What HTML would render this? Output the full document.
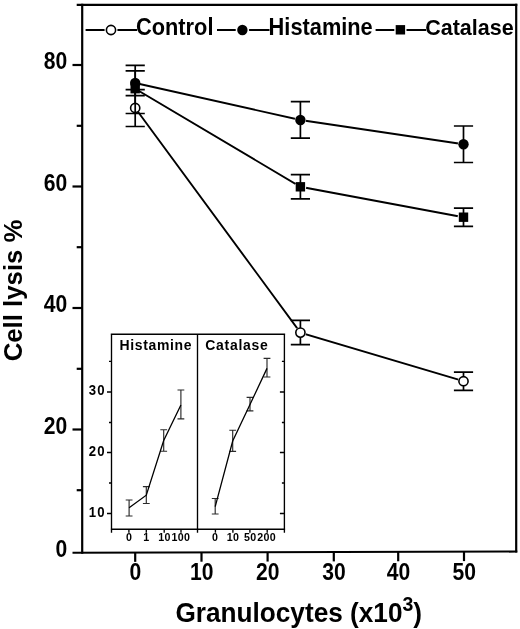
<!DOCTYPE html>
<html><head><meta charset="utf-8"><title>Cell lysis chart</title>
<style>html,body{margin:0;padding:0;background:#fff}svg{display:block}text{font-family:"Liberation Sans",Arial,sans-serif;font-weight:bold;fill:#000}</style>
</head><body>
<svg width="520" height="629" viewBox="0 0 520 629">
<rect width="520" height="629" fill="#fff"/>
<g stroke="#000" stroke-width="2.2" fill="none" stroke-linecap="butt">
<path d="M82.2,3.8000000000000003V553.8"/>
<path d="M516.2,3.8000000000000003V552.6"/>
<path d="M76.7,4.9H517.3000000000001"/>
<path d="M72.5,552.75L517.3000000000001,551.5"/>
<path d="M72.5,429.5H82.2"/>
<path d="M72.5,308.0H82.2"/>
<path d="M72.5,186.5H82.2"/>
<path d="M72.5,65.0H82.2"/>
<path d="M76.7,490.2H82.2"/>
<path d="M76.7,368.8H82.2"/>
<path d="M76.7,247.2H82.2"/>
<path d="M76.7,125.8H82.2"/>
<path d="M135.2,552.53V561.86"/>
<path d="M201.5,552.35V561.71"/>
<path d="M267.6,552.17V561.56"/>
<path d="M333.8,551.99V561.41"/>
<path d="M398.2,551.82V561.27"/>
<path d="M464,551.64V561.12"/>
</g>
<text transform="translate(67.30,557.00) scale(0.96,1.1)" font-size="22" text-anchor="end">0</text>
<text transform="translate(67.30,433.80) scale(0.96,1.1)" font-size="22" text-anchor="end">20</text>
<text transform="translate(67.30,312.30) scale(0.96,1.1)" font-size="22" text-anchor="end">40</text>
<text transform="translate(67.30,190.80) scale(0.96,1.1)" font-size="22" text-anchor="end">60</text>
<text transform="translate(67.30,69.30) scale(0.96,1.1)" font-size="22" text-anchor="end">80</text>
<text transform="translate(135.40,579.50) scale(0.96,1.1)" font-size="22" text-anchor="middle">0</text>
<text transform="translate(201.70,579.50) scale(0.96,1.1)" font-size="22" text-anchor="middle">10</text>
<text transform="translate(267.80,579.50) scale(0.96,1.1)" font-size="22" text-anchor="middle">20</text>
<text transform="translate(334.00,579.50) scale(0.96,1.1)" font-size="22" text-anchor="middle">30</text>
<text transform="translate(398.40,579.50) scale(0.96,1.1)" font-size="22" text-anchor="middle">40</text>
<text transform="translate(464.20,579.50) scale(0.96,1.1)" font-size="22" text-anchor="middle">50</text>
<text transform="translate(21.8,290.4) rotate(-90) scale(1,1.03)" font-size="25.8" text-anchor="middle">Cell lysis %</text>
<text transform="translate(175.4,621.6) scale(1,1.06)" font-size="26.2">Granulocytes (x10<tspan font-size="19.5" dy="-10.3">3</tspan><tspan dy="10.3">)</tspan></text>
<polyline fill="none" stroke="#000" stroke-width="1.9" points="135.2,108.0 300.4,332.6 463.5,381.2"/>
<circle cx="300.4" cy="332.6" r="5.7" fill="#fff"/>
<circle cx="463.5" cy="381.2" r="5.7" fill="#fff"/>
<path fill="none" stroke="#000" stroke-width="1.7" d="M135.2,89.7V126.5M125.6,89.7H144.8M125.6,126.5H144.8"/>
<path fill="none" stroke="#000" stroke-width="1.7" d="M300.4,320.4V344.7M290.8,320.4H310.0M290.8,344.7H310.0"/>
<path fill="none" stroke="#000" stroke-width="1.7" d="M463.5,372.1V390.3M453.9,372.1H473.1M453.9,390.3H473.1"/>
<circle cx="135.2" cy="108.0" r="4.6" fill="#fff" stroke="#000" stroke-width="1.6"/>
<circle cx="300.4" cy="332.6" r="4.6" fill="#fff" stroke="#000" stroke-width="1.6"/>
<circle cx="463.5" cy="381.2" r="4.6" fill="#fff" stroke="#000" stroke-width="1.6"/>
<polyline fill="none" stroke="#000" stroke-width="1.9" points="135.2,83.0 300.4,120.0 463.5,144.3"/>
<circle cx="300.4" cy="120.0" r="5.7" fill="#fff"/>
<circle cx="463.5" cy="144.3" r="5.7" fill="#fff"/>
<path fill="none" stroke="#000" stroke-width="1.7" d="M135.2,65.4V95.7M125.6,65.4H144.8M125.6,95.7H144.8"/>
<path fill="none" stroke="#000" stroke-width="1.7" d="M300.4,101.7V138.2M290.8,101.7H310.0M290.8,138.2H310.0"/>
<path fill="none" stroke="#000" stroke-width="1.7" d="M463.5,126.0V162.5M453.9,126.0H473.1M453.9,162.5H473.1"/>
<circle cx="135.2" cy="83.0" r="5.2" fill="#000"/>
<circle cx="300.4" cy="120.0" r="5.2" fill="#000"/>
<circle cx="463.5" cy="144.3" r="5.2" fill="#000"/>
<polyline fill="none" stroke="#000" stroke-width="1.9" points="135.2,88.7 300.4,186.8 463.5,217.2"/>
<circle cx="300.4" cy="186.8" r="5.9" fill="#fff"/>
<circle cx="463.5" cy="217.2" r="5.9" fill="#fff"/>
<path fill="none" stroke="#000" stroke-width="1.7" d="M135.2,70.8V113.5M125.6,70.8H144.8M125.6,113.5H144.8"/>
<path fill="none" stroke="#000" stroke-width="1.7" d="M300.4,174.6V198.9M290.8,174.6H310.0M290.8,198.9H310.0"/>
<path fill="none" stroke="#000" stroke-width="1.7" d="M463.5,208.1V226.3M453.9,208.1H473.1M453.9,226.3H473.1"/>
<rect x="130.5" y="84.0" width="9.4" height="9.4" fill="#000"/>
<rect x="295.7" y="182.1" width="9.4" height="9.4" fill="#000"/>
<rect x="458.8" y="212.5" width="9.4" height="9.4" fill="#000"/>
<g stroke="#000" stroke-width="1.8" fill="none">
<path d="M85.6,30H137M217,30H269.5M375.6,30H426"/>
</g>
<circle cx="111" cy="30" r="6.5" fill="#fff"/>
<circle cx="242.4" cy="30" r="6.8" fill="#fff"/>
<rect x="394.3" y="24" width="12.2" height="12" fill="#fff"/>
<circle cx="111.0" cy="30.0" r="4.6" fill="#fff" stroke="#000" stroke-width="1.6"/>
<circle cx="242.4" cy="30.0" r="5.2" fill="#000"/>
<rect x="395.7" y="25.1" width="9.4" height="9.4" fill="#000"/>
<text transform="translate(136.00,34.70) scale(1,1.06)" font-size="21.8" text-anchor="start">Control</text>
<text transform="translate(268.60,34.70) scale(1,1.06)" font-size="21.8" text-anchor="start">Histamine</text>
<text transform="translate(425.20,34.70) scale(1,1.06)" font-size="21.5" text-anchor="start">Catalase</text>
<g stroke="#000" stroke-width="1.35" fill="none">
<path d="M111.5,334.2V532.7M197.5,334.2V532.7M284.4,334.2V532.7M110.75,334.2H285.15M110.75,529.2H285.15"/>
<path d="M109.0,361.4H111.5M284.4,361.4H281.9"/>
<path d="M107.0,392H111.5M284.4,392H279.9"/>
<path d="M109.0,422.5H111.5M284.4,422.5H281.9"/>
<path d="M107.0,452.5H111.5M284.4,452.5H279.9"/>
<path d="M109.0,483H111.5M284.4,483H281.9"/>
<path d="M107.0,513.5H111.5M284.4,513.5H279.9"/>
<path d="M128.9,529.2V532.7"/>
<path d="M146.3,529.2V532.7"/>
<path d="M164.2,529.2V532.7"/>
<path d="M181.0,529.2V532.7"/>
<path d="M215.4,529.2V532.7"/>
<path d="M232.9,529.2V532.7"/>
<path d="M249.9,529.2V532.7"/>
<path d="M267.2,529.2V532.7"/>
</g>
<text transform="translate(105.60,516.60) scale(1,1.1)" font-size="13.2" text-anchor="end" letter-spacing="1.1">10</text>
<text transform="translate(105.60,455.60) scale(1,1.1)" font-size="13.2" text-anchor="end" letter-spacing="1.1">20</text>
<text transform="translate(105.60,395.10) scale(1,1.1)" font-size="13.2" text-anchor="end" letter-spacing="1.1">30</text>
<text transform="translate(119.60,349.90) scale(1,1.05)" font-size="14" text-anchor="start" letter-spacing="0.62">Histamine</text>
<text transform="translate(205.30,349.90) scale(1,1.05)" font-size="14" text-anchor="start" letter-spacing="0.72">Catalase</text>
<text transform="translate(129.10,540.80) scale(0.98,1.07)" font-size="10.9" text-anchor="middle" letter-spacing="0.35">0</text>
<text transform="translate(146.50,540.80) scale(0.98,1.07)" font-size="10.9" text-anchor="middle" letter-spacing="0.35">1</text>
<text transform="translate(164.50,540.80) scale(0.98,1.07)" font-size="10.9" text-anchor="middle" letter-spacing="0.35">10</text>
<text transform="translate(180.80,540.80) scale(0.98,1.07)" font-size="10.9" text-anchor="middle" letter-spacing="0.35">100</text>
<text transform="translate(215.10,540.80) scale(0.98,1.07)" font-size="10.9" text-anchor="middle" letter-spacing="0.35">0</text>
<text transform="translate(233.00,540.80) scale(0.98,1.07)" font-size="10.9" text-anchor="middle" letter-spacing="0.35">10</text>
<text transform="translate(250.30,540.80) scale(0.98,1.07)" font-size="10.9" text-anchor="middle" letter-spacing="0.35">50</text>
<text transform="translate(266.70,540.80) scale(0.98,1.07)" font-size="10.9" text-anchor="middle" letter-spacing="0.35">200</text>
<g stroke="#2a2a2a" stroke-width="1.15" fill="none">
<path d="M129.1,500V516M125.69999999999999,500H132.5M125.69999999999999,516H132.5"/>
<path d="M146.3,486.6V503.5M142.9,486.6H149.70000000000002M142.9,503.5H149.70000000000002"/>
<path d="M163.7,429.7V451.2M160.29999999999998,429.7H167.1M160.29999999999998,451.2H167.1"/>
<path d="M180.9,390V418.8M177.5,390H184.3M177.5,418.8H184.3"/>
</g>
<polyline fill="none" stroke="#000" stroke-width="1.3" points="129.1,507.7 146.3,495.2 163.7,440.5 180.9,405"/>
<g stroke="#2a2a2a" stroke-width="1.15" fill="none">
<path d="M215.2,498.5V514M211.79999999999998,498.5H218.6M211.79999999999998,514H218.6"/>
<path d="M232.7,430.2V451.3M229.29999999999998,430.2H236.1M229.29999999999998,451.3H236.1"/>
<path d="M250,397.4V410.8M246.6,397.4H253.4M246.6,410.8H253.4"/>
<path d="M267,358.4V377M263.6,358.4H270.4M263.6,377H270.4"/>
</g>
<polyline fill="none" stroke="#000" stroke-width="1.3" points="215.2,506.6 232.7,441 250,404.5 267,368.4"/>
</svg>
</body></html>
